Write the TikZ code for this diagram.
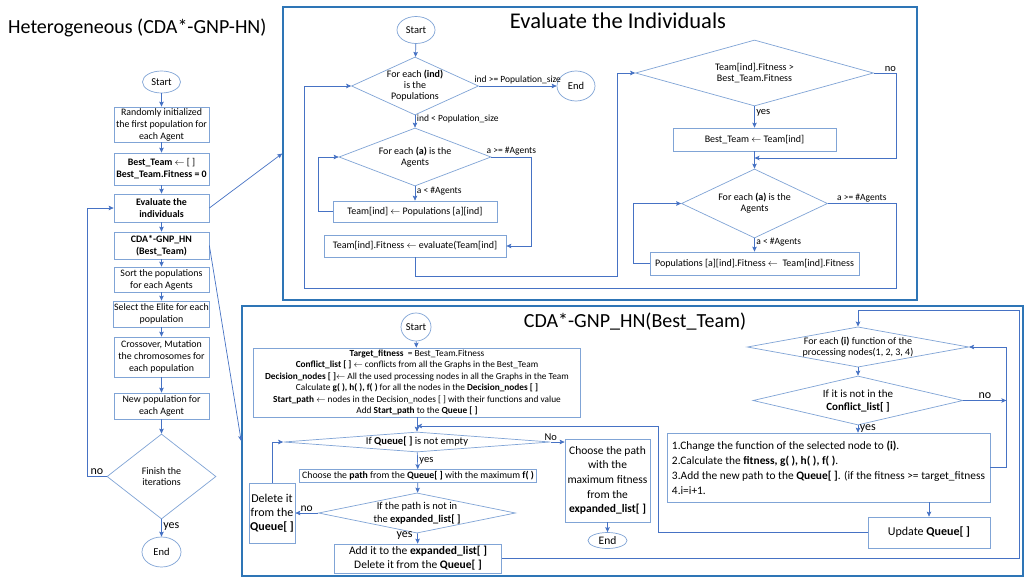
\documentclass[tikz,border=0pt]{standalone}
\usepackage{fontspec}
\setmainfont{Carlito}
\usepackage{xcolor}
\usetikzlibrary{
	arrows.meta,
	shapes.geometric,
	positioning,
	}

\definecolor{boxblue}{RGB}{128,164,214}
\definecolor{linkblue}{RGB}{70,114,196}
\definecolor{panelblue}{RGB}{46,117,182}

\begin{document}
\begin{tikzpicture}[x=1pt,y=-1pt,
	box/.style={draw=boxblue, line width=0.7pt, rectangle, align=center, inner sep=0.5pt, font=\fontsize{9.9}{12}\selectfont},
	decision/.style={draw=boxblue, line width=0.7pt, diamond, align=center, inner sep=0pt, font=\fontsize{10}{11}\selectfont},
	term/.style={draw=boxblue, line width=0.7pt, ellipse, inner sep=0pt, font=\fontsize{10.5}{12}\selectfont},
	flow/.style={draw=linkblue, line width=0.7pt, -{Stealth[length=5pt,width=4.5pt,inset=1pt]}},
	lbl/.style={font=\fontsize{9.5}{11}\selectfont, inner sep=1.5pt},
	panel/.style={draw=panelblue, line width=1.6pt, rectangle, inner sep=0pt},
	title/.style={font=\fontsize{20}{24}\selectfont, inner sep=0pt},
	]
	\useasboundingbox (0,0) rectangle (1024,578);
	\fill[white] (0,0) rectangle (1024,578);

	% frames of the two sub-procedures
	\node[panel, minimum width=634pt, minimum height=293pt] (evalpanel) at (600,153.5) {};
	\node[panel, minimum width=781pt, minimum height=270pt] (cdapanel) at (632.5,441) {};

	\node[title, anchor=west] (maintitle) at (8,28) {Heterogeneous (CDA*-GNP-HN)};
	\node[title, font=\fontsize{22.5}{26}\selectfont] (evaltitle) at (618,21) {Evaluate the Individuals};
	\node[title] (cdatitle) at (635,322) {CDA*-GNP\_HN(Best\_Team)};

	% main loop
	\node[term, minimum width=38pt, minimum height=22pt] (start) at (161.5,82) {Start};
	\node[box, minimum width=95pt, minimum height=35pt] (init) at (161.5,124.5) {Randomly initialized\\the first population for\\each Agent};
	\node[box, minimum width=95pt, minimum height=32pt] (bestteam) at (161.5,169) {\textbf{Best\_Team} $\leftarrow$ [ ]\\\textbf{Best\_Team.Fitness = 0}};
	\node[box, minimum width=95pt, minimum height=28pt] (evaluate) at (161.5,208) {\textbf{Evaluate the}\\\textbf{individuals}};
	\node[box, minimum width=95pt, minimum height=27pt] (cdagnp) at (161.5,245.5) {\textbf{CDA*-GNP\_HN}\\\textbf{(Best\_Team)}};
	\node[box, minimum width=95pt, minimum height=25pt] (sortpop) at (161.5,279.5) {Sort the populations\\for each Agents};
	\node[box, minimum width=95pt, minimum height=26pt] (elite) at (161.5,314) {Select the Elite for each\\population};
	\node[box, minimum width=95pt, minimum height=40pt] (crossover) at (161.5,357) {Crossover, Mutation\\the chromosomes for\\each population};
	\node[box, minimum width=95pt, minimum height=26pt] (newpop) at (161.5,406) {New population for\\each Agent};
	\node[decision, minimum width=109pt, minimum height=85pt, aspect=1.28] (finish) at (161.5,476.5) {Finish the\\iterations};
	\node[term, minimum width=39pt, minimum height=30pt] (stop) at (161.5,552) {End};

	\draw[flow] (start) -- (init);
	\draw[flow] (init) -- (bestteam);
	\draw[flow] (bestteam) -- (evaluate);
	\draw[flow] (evaluate) -- (cdagnp);
	\draw[flow] (cdagnp) -- (sortpop);
	\draw[flow] (sortpop) -- (elite);
	\draw[flow] (elite) -- (crossover);
	\draw[flow] (crossover) -- (newpop);
	\draw[flow] (newpop) -- (finish);
	\draw[flow] (finish) -- node[lbl, right, pos=.4, font=\fontsize{12}{14}\selectfont]{yes} (stop);
	\draw[flow] (finish.west) -- node[lbl, above, font=\fontsize{12}{14}\selectfont]{no} ++(-19.5,0) |- (evaluate.west);

	\draw[flow] (evaluate.east) -- (evalpanel.west);
	\draw[flow] (cdagnp.east) -- (cdapanel.west);

	% evaluation of the individuals
	\node[term, minimum width=38pt, minimum height=27pt] (evstart) at (416,30) {Start};
	\node[decision, minimum width=127pt, minimum height=58pt, aspect=2.2] (evind) at (415,86) {For each \textbf{(ind)}\\is the\\Populations};
	\node[term, minimum width=38pt, minimum height=30pt] (evend) at (576,86) {End};
	\node[decision, minimum width=152pt, minimum height=58pt, aspect=2.6] (evagent) at (415,157) {For each \textbf{(a)} is the\\Agents};
	\node[box, font=\fontsize{10}{12}\selectfont, minimum width=164pt, minimum height=21pt] (evteam) at (415,211.5) {Team[ind] $\leftarrow$ Populations [a][ind]};
	\node[box, font=\fontsize{10}{12}\selectfont, minimum width=182pt, minimum height=22pt] (evfit) at (415,246) {Team[ind].Fitness $\leftarrow$ evaluate(Team[ind]};
	\node[decision, minimum width=238pt, minimum height=66pt, aspect=3.6] (evbetter) at (754.5,73) {Team[ind].Fitness >\\Best\_Team.Fitness};
	\node[box, font=\fontsize{10}{12}\selectfont, minimum width=163pt, minimum height=23pt] (evsetbest) at (754.5,139.5) {Best\_Team $\leftarrow$ Team[ind]};
	\node[decision, minimum width=146pt, minimum height=69pt, aspect=2.1] (evagent2) at (754.5,203.5) {For each \textbf{(a)} is the\\Agents};
	\node[box, font=\fontsize{10}{12}\selectfont, minimum width=209pt, minimum height=23pt] (evupdate) at (754.5,263.5) {Populations [a][ind].Fitness $\leftarrow$\ \ Team[ind].Fitness};

	\coordinate (evjoin) at (754.5,158);

	\draw[flow] (evstart) -- (evind);
	\draw[flow] (evind) -- node[lbl, above]{ind >= Population\_size} (evend);
	\draw[flow] (evind) -- node[lbl, right, pos=.3]{ind < Population\_size} (evagent);
	\draw[flow] (evagent) -- node[lbl, right, pos=.3]{a < \#Agents} (evteam);
	\draw[flow] (evteam.west) -- ++(-14,0) |- (evagent.west);
	\draw[flow] (evagent.east) -- node[lbl, above]{a >= \#Agents} ++(40,0) |- (evfit.east);
	\draw[flow] (evfit.south) -- ++(0,19) -| ([xshift=-18pt]evbetter.west) -- (evbetter.west);
	\draw[flow] (evbetter) -- node[lbl, right, pos=.3, font=\fontsize{10.5}{12}\selectfont]{yes} (evsetbest);
	\draw[flow] (evbetter.east) -- node[lbl, above, pos=.75, font=\fontsize{10.5}{12}\selectfont]{no} ++(22,0) |- (evjoin);
	\draw[flow] (evsetbest) -- (evagent2);
	\draw[flow] (evagent2) -- node[lbl, right, pos=.25]{a < \#Agents} (evupdate);
	\draw[flow] (evupdate.west) -- ++(-16,0) |- (evagent2.west);
	\draw[flow] (evagent2.east) -- node[lbl, above]{a >= \#Agents} ++(68,0) -- ++(0,84.5) -| ([xshift=-47pt]evind.west) -- (evind.west);

	% CDA*-GNP_HN search
	\node[term, minimum width=30pt, minimum height=28pt] (cdstart) at (416,327) {Start};
	\node[box, font=\fontsize{9.3}{11.5}\selectfont, minimum width=327pt, minimum height=69pt] (cdinit) at (417,382.5) {\textbf{Target\_fitness} \ = Best\_Team.Fitness\\
		\textbf{Conflict\_list [ ]} $\leftarrow$ conflicts from all the Graphs in the Best\_Team\\
		\textbf{Decision\_nodes [ ]}$\leftarrow$ All the used processing nodes in all the Graphs in the Team\\
		Calculate \textbf{g( ), h( ), f( )} for all the nodes in the \textbf{Decision\_nodes [ ]}\\
		\textbf{Start\_path} $\leftarrow$ nodes in the Decision\_nodes [ ] with their functions and value\\
		Add \textbf{Start\_path} to the \textbf{Queue [ ]}};
	\node[decision, font=\fontsize{10.5}{12}\selectfont, minimum width=267pt, minimum height=20pt, aspect=13] (cdqueue) at (417,442) {If \textbf{Queue[ ]} is not empty};
	\node[box, font=\fontsize{11.5}{14.6}\selectfont, minimum width=85pt, minimum height=83pt] (cdpick) at (607.5,480.5) {Choose the path\\with the\\maximum fitness\\from the\\\textbf{expanded\_list[ ]}};
	\node[term, font=\fontsize{11.5}{13}\selectfont, minimum width=39pt, minimum height=16pt] (cdend) at (607.5,540.5) {End};
	\node[box, font=\fontsize{9.8}{11}\selectfont, minimum width=237pt, minimum height=13pt, inner sep=0pt] (cdchoose) at (418,476) {Choose the \textbf{path} from the \textbf{Queue[ ]} with the maximum \textbf{f( )}};
	\node[decision, font=\fontsize{10.5}{13.5}\selectfont, minimum width=197pt, minimum height=40pt, aspect=4.9] (cdexp) at (417,513) {If the path is not in\\the \textbf{expanded\_list[ ]}};
	\node[box, font=\fontsize{12}{14}\selectfont, minimum width=46pt, minimum height=60pt, inner sep=0pt] (cddel) at (272,513) {Delete it\\from the\\\textbf{Queue[ ]}};
	\node[box, font=\fontsize{11.5}{14}\selectfont, minimum width=167pt, minimum height=29pt] (cdadd) at (418,558.5) {Add it to the \textbf{expanded\_list[ ]}\\Delete it from the \textbf{Queue[ ]}};
	\node[decision, minimum width=220pt, minimum height=40pt, aspect=5.5] (cdfunc) at (858,347) {For each \textbf{(i)} function of the\\processing nodes(1, 2, 3, 4)};
	\node[decision, font=\fontsize{11}{13}\selectfont, minimum width=210pt, minimum height=49pt, aspect=4.3] (cdconf) at (858,400.5) {If it is not in the\\\textbf{Conflict\_list[ ]}};
	\node[box, align=left, font=\fontsize{11.4}{15}\selectfont, minimum width=323pt, minimum height=69pt] (cdchange) at (828.5,467.5) {1.Change the function of the selected node to \textbf{(i)}.\\
		2.Calculate the \textbf{fitness, g( ), h( ), f( )}.\\
		3.Add the new path to the \textbf{Queue[ ]}. (if the fitness >= target\_fitness\\
		4.i=i+1.};
	\node[box, font=\fontsize{12}{14}\selectfont, minimum width=122pt, minimum height=31pt] (cdupd) at (929,532.5) {Update \textbf{Queue[ ]}};

	\coordinate (cdjoin) at (417,426);
	\coordinate (cdturn) at ([xshift=16pt]cdchange.east);

	\draw[flow] (cdstart) -- (cdinit);
	\draw[flow] (cdinit) -- (cdqueue);
	\draw[flow] (cdqueue.east) -- node[lbl, above, pos=0, font=\fontsize{10.5}{12}\selectfont]{No} (cdpick.west |- cdqueue.east);
	\draw[flow] (cdpick) -- (cdend);
	\draw[flow] (cdqueue) -- node[lbl, right, font=\fontsize{10.5}{12}\selectfont]{yes} (cdchoose);
	\draw[flow] (cdchoose) -- (cdexp);
	\draw[flow] (cdexp.west) -- node[lbl, above, font=\fontsize{11.5}{13}\selectfont]{no} (cddel.east);
	\draw[flow] (cddel.north) |- (cdqueue.west);
	\draw[flow] (cdexp) -- node[lbl, left, pos=.2, xshift=-3pt, font=\fontsize{12}{14}\selectfont]{yes} (cdadd);
	\draw[flow] (cdadd.east) -- ++(517,0) |- ([yshift=16pt]cdfunc.north) -- (cdfunc.north);
	\draw[flow] (cdfunc) -- (cdconf);
	\draw[flow] (cdconf.south) -- node[lbl, right, font=\fontsize{12}{14}\selectfont]{yes} (cdconf.south |- cdchange.north);
	\draw[flow] (cdchange.east) -- (cdturn) |- (cdfunc.east);
	\draw[flow] (cdconf.east) -- node[lbl, above, font=\fontsize{12}{14}\selectfont]{no} (cdturn |- cdconf.east);
	\draw[flow] (cdchange.south -| cdupd.north) -- (cdupd.north);
	\draw[flow] (cdupd.west) -- ++(-209,0) |- (cdjoin);

\end{tikzpicture}
\end{document}
